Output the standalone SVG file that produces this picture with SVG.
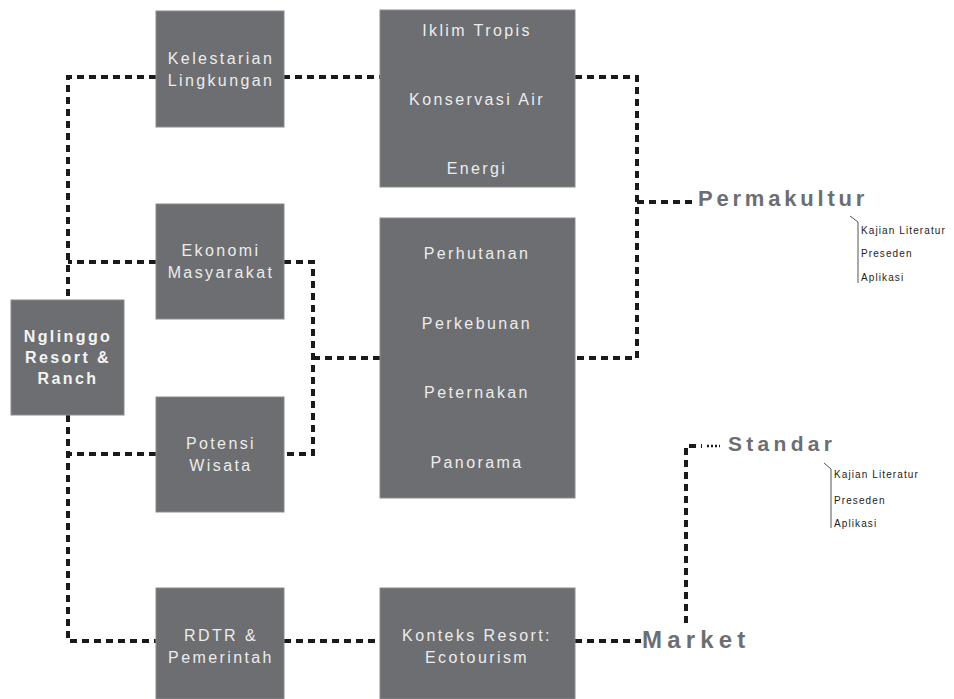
<svg xmlns="http://www.w3.org/2000/svg" width="954" height="699" viewBox="0 0 954 699">
<style>
.box{fill:#6d6e71;stroke:#8a8b8e;stroke-width:1}
.lbl{font-family:"Liberation Sans",Arial,sans-serif;font-size:16px;fill:#ececec;text-anchor:middle;letter-spacing:2.4px}
.bold{font-weight:bold;letter-spacing:2.4px;fill:#f4f4f4}
.con{fill:none;stroke:#1a1a1a;stroke-width:4;stroke-dasharray:7 5}
.big{font-family:"Liberation Sans",Arial,sans-serif;font-weight:bold;fill:#6d6e71}
.sm{font-family:"Liberation Sans",Arial,sans-serif;font-size:10px;fill:#222;letter-spacing:1.1px}
.thin{fill:none;stroke:#555;stroke-width:1}
</style>
<rect width="954" height="699" fill="#ffffff"/>
<g id="connectors">
<path class="con" d="M156 77 H68 V300"/>
<path class="con" d="M283 77 H380"/>
<path class="con" d="M156 262 H68"/>
<path class="con" d="M284 262 H313 V454 H284"/>
<path class="con" d="M313 358 H380"/>
<path class="con" d="M156 454 H68"/>
<path class="con" d="M68 415 V641 H156"/>
<path class="con" d="M284 641 H380"/>
<path class="con" d="M575 641 H641"/>
<path class="con" d="M575 77 H637 V358 H577"/>
<path class="con" d="M637 202 H695"/>
<path class="con" d="M686 623 V446 H702"/>
<path fill="none" stroke="#1a1a1a" stroke-width="2.5" stroke-dasharray="2 2" d="M707 446 H720"/>
</g>
<g id="ngliggo">
<rect class="box" x="11" y="300" width="113" height="115"/>
<text class="lbl bold" x="68" y="342">Nglinggo</text>
<text class="lbl bold" x="68" y="363">Resort &amp;</text>
<text class="lbl bold" x="68" y="384">Ranch</text>
</g>
<g id="kelestarian">
<rect class="box" x="156" y="11" width="128" height="116"/>
<text class="lbl" x="221" y="64">Kelestarian</text>
<text class="lbl" x="221" y="86">Lingkungan</text>
</g>
<g id="ekonomi">
<rect class="box" x="156" y="204" width="128" height="115"/>
<text class="lbl" x="221" y="256">Ekonomi</text>
<text class="lbl" x="221" y="278">Masyarakat</text>
</g>
<g id="potensi">
<rect class="box" x="156" y="397" width="128" height="115"/>
<text class="lbl" x="221" y="449">Potensi</text>
<text class="lbl" x="221" y="471">Wisata</text>
</g>
<g id="rdtr">
<rect class="box" x="156" y="588" width="128" height="111"/>
<text class="lbl" x="221" y="641">RDTR &amp;</text>
<text class="lbl" x="221" y="663">Pemerintah</text>
</g>
<g id="iklim">
<rect class="box" x="380" y="10" width="195" height="177"/>
<text class="lbl" x="477" y="36">Iklim Tropis</text>
<text class="lbl" x="477" y="105">Konservasi Air</text>
<text class="lbl" x="477" y="174">Energi</text>
</g>
<g id="perhutanan">
<rect class="box" x="380" y="218" width="195" height="280"/>
<text class="lbl" x="477" y="259">Perhutanan</text>
<text class="lbl" x="477" y="329">Perkebunan</text>
<text class="lbl" x="477" y="398">Peternakan</text>
<text class="lbl" x="477" y="468">Panorama</text>
</g>
<g id="konteks">
<rect class="box" x="380" y="588" width="195" height="111"/>
<text class="lbl" x="477" y="641">Konteks Resort:</text>
<text class="lbl" x="477" y="663">Ecotourism</text>
</g>
<g id="permakultur">
<text class="big" x="698" y="206" font-size="22" letter-spacing="3.8">Permakultur</text>
<path class="thin" d="M850 216 L858 222 V283"/>
<text class="sm" x="861" y="234">Kajian Literatur</text>
<text class="sm" x="861" y="257">Preseden</text>
<text class="sm" x="861" y="281">Aplikasi</text>
</g>
<g id="standar">
<text class="big" x="728" y="451" font-size="21" letter-spacing="4.3">Standar</text>
<path class="thin" d="M824 463 L831 469 V528"/>
<text class="sm" x="834" y="478">Kajian Literatur</text>
<text class="sm" x="834" y="504">Preseden</text>
<text class="sm" x="834" y="527">Aplikasi</text>
</g>
<g id="market">
<text class="big" x="642" y="648" font-size="24" letter-spacing="5.2">Market</text>
</g>
</svg>
